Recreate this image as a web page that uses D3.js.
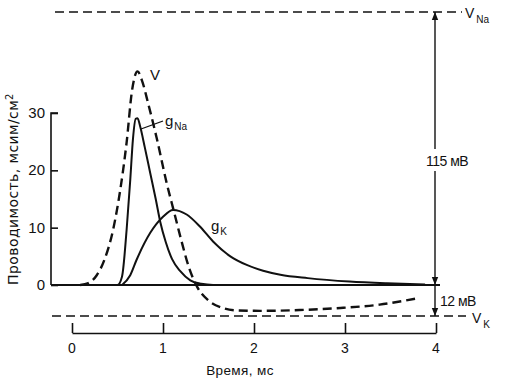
<!DOCTYPE html>
<html>
<head>
<meta charset="utf-8">
<script src="https://cdn.jsdelivr.net/npm/d3@7"></script>
<style>
  body { margin: 0; background: #fff; }
  svg text { font-family: "Liberation Sans", Arial, sans-serif; fill: #111; }
</style>
</head>
<body>
<svg width="530" height="378"></svg>
<script>
// time, ms
const xTicks = [0, 1, 2, 3, 4];
const gTicks = [0, 10, 20, 30];

// membrane potential V, mV (relative to rest)
const vTime = [0.09, 0.18, 0.27, 0.36, 0.45, 0.53, 0.6, 0.66, 0.72, 0.77, 0.84, 0.93, 1.04, 1.12, 1.2, 1.28, 1.38, 1.5, 1.65, 1.8, 2.07, 2.5, 2.95, 3.38, 3.82];
const vVal  = [0, 0.8, 4, 11, 23, 40, 60, 82, 90, 86, 76, 62, 43, 31, 19, 8, -1, -6, -8.8, -9.8, -10, -9.7, -8.9, -7.6, -5];

// sodium conductance, mS/cm2
const naTime = [0, 0.5, 0.55, 0.6, 0.64, 0.67, 0.7, 0.72, 0.75, 0.8, 0.86, 0.92, 0.97, 1.03, 1.1, 1.19, 1.3, 1.42, 1.55, 4];
const naVal  = [0, 0, 1.5, 9.6, 18.3, 25.5, 29, 29.1, 27.6, 24, 19.5, 15, 11, 7.5, 4.5, 2.4, 0.8, 0.2, 0, 0];

// potassium conductance, mS/cm2
const kTime = [0.55, 0.64, 0.71, 0.86, 1.0, 1.11, 1.26, 1.4, 1.55, 1.74, 1.92, 2.1, 2.29, 2.59, 3.05, 3.46, 3.88];
const kVal  = [0, 1.7, 4.4, 9.1, 11.9, 13.1, 12.3, 10.3, 7.6, 5.0, 3.5, 2.5, 1.8, 1.2, 0.6, 0.3, 0.1];

const vNa = 115, vK = -12;

const svg = d3.select("svg");
const x = d3.scaleLinear().domain([0, 4]).range([72, 436]);
const g = d3.scaleLinear().domain([0, 30]).range([285, 113]);
const v = d3.scaleLinear().domain([vK, 0, vNa]).range([316, 285, 12]);

// y axis (conductance), ticks pointing inward
svg.append("g")
  .attr("transform", "translate(51,0)")
  .call(d3.axisRight(g).tickValues(gTicks).tickSize(7).tickFormat(""))
  .call(s => s.select(".domain").attr("d", `M7,${g(30)}H0V${g(0)}`))
  .selectAll("line,path").attr("stroke", "#111").attr("stroke-width", 1.6);

svg.append("g").selectAll("text").data(gTicks).join("text")
  .attr("x", 45).attr("y", d => g(d) + 5)
  .attr("text-anchor", "end").attr("font-size", 15)
  .text(d => d);

svg.append("text")
  .attr("transform", `translate(18,${(g(0) + g(30)) / 2 - 10}) rotate(-90)`)
  .attr("text-anchor", "middle").attr("font-size", 14)
  .style("font-family", "'DejaVu Sans', sans-serif").attr("letter-spacing", 0.4)
  .html("Проводимость, мсим/см<tspan dy='-5' font-size='10'>2</tspan>");

// x axis, ticks pointing up
svg.append("g")
  .attr("transform", "translate(0,333)")
  .call(d3.axisTop(x).tickValues(xTicks).tickSize(10).tickFormat("").tickSizeOuter(0))
  .selectAll("line,path").attr("stroke", "#111").attr("stroke-width", 1.6);

svg.append("g").selectAll("text").data(xTicks).join("text")
  .attr("x", d => x(d)).attr("y", 353)
  .attr("text-anchor", "middle").attr("font-size", 14)
  .text(d => d);

svg.append("text").attr("x", 240).attr("y", 375)
  .attr("text-anchor", "middle").attr("font-size", 13.5)
  .attr("letter-spacing", 0.4)
  .text("Время, мс");

// zero line
svg.append("line")
  .attr("x1", 51).attr("x2", x(4) + 4)
  .attr("y1", g(0)).attr("y2", g(0))
  .attr("stroke", "#111").attr("stroke-width", 1.8);

// reversal potential lines
svg.append("line").attr("x1", 55).attr("x2", 462)
  .attr("y1", v(vNa)).attr("y2", v(vNa))
  .attr("stroke", "#111").attr("stroke-width", 1.4).attr("stroke-dasharray", "9,5");
svg.append("line").attr("x1", 52).attr("x2", 466)
  .attr("y1", v(vK)).attr("y2", v(vK))
  .attr("stroke", "#111").attr("stroke-width", 1.4).attr("stroke-dasharray", "9,5");

svg.append("text").attr("x", 465).attr("y", v(vNa) + 6).attr("font-size", 14)
  .html("V<tspan dx='2' dy='5' font-size='10'>Na</tspan>");
svg.append("text").attr("x", 472).attr("y", v(vK) + 7).attr("font-size", 14)
  .html("V<tspan dx='2' dy='5' font-size='10'>K</tspan>");

// arrows
svg.append("defs").append("marker")
  .attr("id", "arr").attr("viewBox", "0 0 10 10").attr("refX", 10).attr("refY", 5)
  .attr("markerWidth", 6).attr("markerHeight", 7).attr("orient", "auto-start-reverse")
  .append("path").attr("d", "M0,1L10,5L0,9Z").attr("fill", "#111");

const ax = x(4) - 1;
svg.append("line").attr("x1", ax).attr("x2", ax)
  .attr("y1", v(vNa)).attr("y2", g(0))
  .attr("stroke", "#111").attr("stroke-width", 1.4)
  .attr("marker-start", "url(#arr)").attr("marker-end", "url(#arr)");
svg.append("line").attr("x1", ax).attr("x2", ax)
  .attr("y1", g(0)).attr("y2", v(vK))
  .attr("stroke", "#111").attr("stroke-width", 1.4)
  .attr("marker-end", "url(#arr)");

svg.append("rect").attr("x", 424).attr("y", 149).attr("width", 50).attr("height", 22).attr("fill", "#fff");
svg.append("text").attr("x", 426).attr("y", 166).attr("font-size", 14)
  .attr("letter-spacing", -0.5).text("115 мВ");
svg.append("text").attr("x", 440).attr("y", 306).attr("font-size", 14)
  .attr("letter-spacing", -0.5).text("12 мВ");

// curves
const line = (yScale) => d3.line()
  .x(d => x(d[0])).y(d => yScale(d[1]))
  .curve(d3.curveMonotoneX);

svg.append("path").datum(d3.zip(vTime, vVal))
  .attr("d", line(v)).attr("fill", "none")
  .attr("stroke", "#111").attr("stroke-width", 2.4).attr("stroke-dasharray", "9,5");

svg.append("path").datum(d3.zip(naTime, naVal))
  .attr("d", line(g)).attr("fill", "none")
  .attr("stroke", "#111").attr("stroke-width", 2);

svg.append("path").datum(d3.zip(kTime, kVal))
  .attr("d", line(g)).attr("fill", "none")
  .attr("stroke", "#111").attr("stroke-width", 2);

// curve labels
svg.append("text").attr("x", 150).attr("y", 80).attr("font-size", 15).text("V");
svg.append("line").attr("x1", 141).attr("y1", 129).attr("x2", 163).attr("y2", 121)
  .attr("stroke", "#111").attr("stroke-width", 1.3);
svg.append("text").attr("x", 165).attr("y", 126).attr("font-size", 15)
  .html("g<tspan dx='1' dy='4' font-size='10'>Na</tspan>");
svg.append("text").attr("x", 211).attr("y", 231).attr("font-size", 15)
  .html("g<tspan dx='1' dy='4' font-size='10'>K</tspan>");
</script>
</body>
</html>
